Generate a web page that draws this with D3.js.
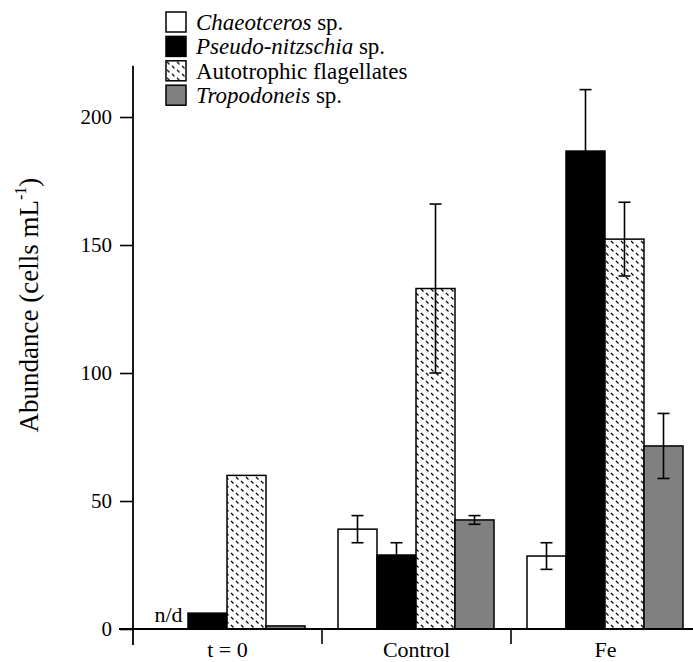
<!DOCTYPE html>
<html>
<head>
<meta charset="utf-8">
<script src="https://cdn.jsdelivr.net/npm/d3@7"></script>
<style>
  body { margin: 0; background: #fff; }
  svg text { font-family: 'Liberation Serif', 'DejaVu Serif', 'Times New Roman', Times, serif; }
</style>
</head>
<body>
<div id="chart"></div>
<script>
const groups = ['t = 0', 'Control', 'Fe']
const series = ['Chaeotceros', 'Pseudo-nitzschia', 'Autotrophic flagellates', 'Tropodoneis']
// values per series, in group order
const chaeto = [0, 39, 28.5]
const pseudo = [6.2, 28.9, 186.7]
const autot  = [60, 133, 152.3]
const tropo  = [1.2, 42.6, 71.5]
// error (one side)
const chaetoErr = [0, 5.3, 5.2]
const pseudoErr = [0, 4.8, 24]
const autotErr  = [0, 33, 14.4]
const tropoErr  = [0, 1.7, 12.7]
const yTicks = [0, 50, 100, 150, 200]

const values = [chaeto, pseudo, autot, tropo]
const errors = [chaetoErr, pseudoErr, autotErr, tropoErr]

const serif = "'Liberation Serif', 'DejaVu Serif', 'Times New Roman', Times, serif"
const width = 693, height = 662
const svg = d3.select('#chart').append('svg')
  .attr('width', width).attr('height', height)
  .attr('font-family', serif)

const defs = svg.append('defs')
const pat = defs.append('pattern')
  .attr('id', 'hatch').attr('patternUnits', 'userSpaceOnUse')
  .attr('width', 10).attr('height', 8)
pat.append('rect').attr('width', 10).attr('height', 8).attr('fill', '#fff')
pat.append('path').attr('d', 'M1,1 L3.5,3.5 M6,5 L8.5,7.5')
  .attr('stroke', '#000').attr('stroke-width', 1.2)

const fills = ['#fff', '#000', 'url(#hatch)', '#808080']

const x = d3.scaleBand().domain(groups).range([133, 700])
const xs = d3.scaleBand().domain(d3.range(series.length)).range([16, 172])
const y = d3.scaleLinear().domain([0, 220]).range([629, 629 - 220 * 2.56])

const rows = []
groups.forEach((g, gi) => {
  series.forEach((s, si) => {
    rows.push({ g, si, v: values[si][gi], e: errors[si][gi] })
  })
})

// bars
svg.append('g').selectAll('rect')
  .data(rows.filter(d => d.v > 0))
  .join('rect')
    .attr('x', d => x(d.g) + xs(d.si))
    .attr('y', d => y(d.v))
    .attr('width', xs.bandwidth())
    .attr('height', d => y(0) - y(d.v))
    .attr('fill', d => fills[d.si])
    .attr('stroke', '#000')
    .attr('stroke-width', 1.5)

// error bars
const eb = svg.append('g').attr('stroke', '#000').attr('stroke-width', 1.6)
  .selectAll('g').data(rows.filter(d => d.e > 0)).join('g')
  .attr('transform', d => `translate(${x(d.g) + xs(d.si) + xs.bandwidth() / 2},0)`)
eb.append('line').attr('y1', d => y(d.v - d.e)).attr('y2', d => y(d.v + d.e))
eb.append('line').attr('x1', -6).attr('x2', 6).attr('y1', d => y(d.v + d.e)).attr('y2', d => y(d.v + d.e))
eb.append('line').attr('x1', -6).attr('x2', 6).attr('y1', d => y(d.v - d.e)).attr('y2', d => y(d.v - d.e))

// n/d label
svg.append('text')
  .attr('x', x(groups[0]) + xs(0) + xs.bandwidth() / 2)
  .attr('y', y(0) - 7)
  .attr('text-anchor', 'middle')
  .attr('font-size', 22)
  .text('n/d')

// y axis
const yAxis = svg.append('g').attr('transform', 'translate(133,0)')
  .call(d3.axisLeft(y).tickValues(yTicks).tickSize(13).tickPadding(8))
yAxis.attr('font-family', serif)
yAxis.select('.domain').remove()
yAxis.selectAll('line').attr('stroke-width', 1.6)
yAxis.selectAll('text').attr('font-size', 21)
svg.append('line').attr('x1', 133).attr('x2', 133)
  .attr('y1', y(220)).attr('y2', 645)
  .attr('stroke', '#000').attr('stroke-width', 1.8)

// x axis
const xAxis = svg.append('g').attr('transform', `translate(0,${y(0)})`)
  .call(d3.axisBottom(x).tickSize(0).tickPadding(12))
xAxis.attr('font-family', serif)
xAxis.select('.domain').remove()
xAxis.selectAll('text').attr('font-size', 22)
svg.append('line').attr('x1', 119).attr('x2', width)
  .attr('y1', y(0)).attr('y2', y(0))
  .attr('stroke', '#000').attr('stroke-width', 1.8)
svg.append('g').selectAll('line')
  .data(groups.slice(0, -1))
  .join('line')
    .attr('x1', d => x(d) + x.bandwidth()).attr('x2', d => x(d) + x.bandwidth())
    .attr('y1', y(0)).attr('y2', y(0) + 15)
    .attr('stroke', '#000').attr('stroke-width', 1.6)

// y title
svg.append('text')
  .attr('transform', 'translate(38,305) rotate(-90)')
  .attr('text-anchor', 'middle')
  .attr('font-size', 27)
  .call(t => {
    t.append('tspan').text('Abundance (cells mL')
    t.append('tspan').attr('font-size', 16).attr('dy', -12).text('-1')
    t.append('tspan').attr('dy', 12).text(')')
  })

// legend
const legendItalic = ['Chaeotceros', 'Pseudo-nitzschia', null, 'Tropodoneis']
const lg = svg.append('g').selectAll('g').data(series).join('g')
  .attr('transform', (d, i) => `translate(166,${12 + i * 24.4})`)
lg.append('rect').attr('width', 20).attr('height', 20)
  .attr('fill', (d, i) => fills[i]).attr('stroke', '#000').attr('stroke-width', 1.5)
lg.append('text').attr('x', 30).attr('y', 18).attr('font-size', 23)
  .each(function (d, i) {
    const t = d3.select(this)
    if (legendItalic[i]) {
      t.append('tspan').attr('font-style', 'italic').text(d)
      t.append('tspan').text(' sp.')
    } else {
      t.text(d)
    }
  })
</script>
</body>
</html>
